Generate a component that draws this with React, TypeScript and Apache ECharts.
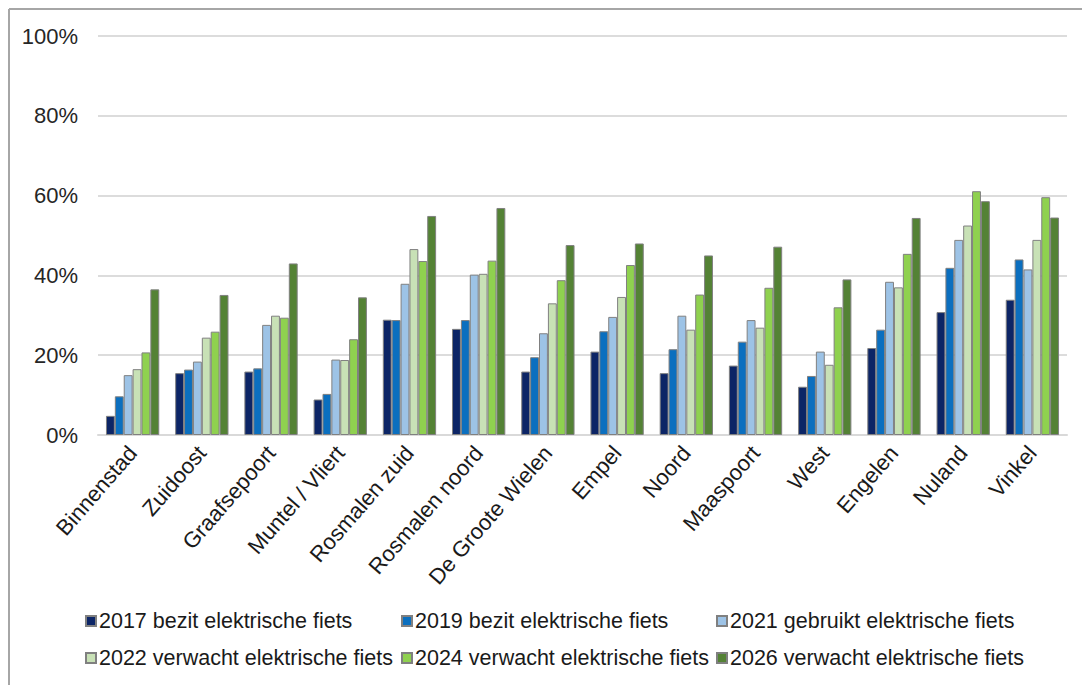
import React, { useEffect, useRef } from "react";
import * as echarts from "echarts";

const categories = [
  "Binnenstad", "Zuidoost", "Graafsepoort", "Muntel / Vliert", "Rosmalen zuid",
  "Rosmalen noord", "De Groote Wielen", "Empel", "Noord", "Maaspoort",
  "West", "Engelen", "Nuland", "Vinkel",
];

const seriesNames = [
  "2017 bezit elektrische fiets",
  "2019 bezit elektrische fiets",
  "2021 gebruikt elektrische fiets",
  "2022 verwacht elektrische fiets",
  "2024 verwacht elektrische fiets",
  "2026 verwacht elektrische fiets",
];

const v2017 = [4.8, 15.5, 15.9, 8.9, 28.9, 26.6, 15.9, 20.9, 15.5, 17.4, 12.1, 21.8, 30.8, 33.9];
const v2019 = [9.7, 16.4, 16.7, 10.3, 28.8, 28.8, 19.5, 26.0, 21.5, 23.4, 14.8, 26.4, 41.9, 44.0];
const v2021 = [15.0, 18.4, 27.6, 18.9, 37.9, 40.2, 25.5, 29.6, 29.9, 28.8, 20.9, 38.4, 48.9, 41.5];
const v2022 = [16.5, 24.4, 29.9, 18.8, 46.6, 40.4, 33.0, 34.6, 26.4, 26.9, 17.6, 37.0, 52.5, 48.9];
const v2024 = [20.7, 25.9, 29.4, 24.0, 43.6, 43.7, 38.8, 42.6, 35.2, 36.9, 32.0, 45.4, 61.1, 59.6];
const v2026 = [36.5, 35.1, 43.0, 34.5, 54.9, 56.9, 47.6, 48.0, 45.0, 47.2, 39.0, 54.4, 58.6, 54.5];

const seriesValues = [v2017, v2019, v2021, v2022, v2024, v2026];
const colors = ["#0c2566", "#0b6fbf", "#9dc3e6", "#c8e1b6", "#8fd14f", "#548235"];

const yTicks = [0, 20, 40, 60, 80, 100];

export default function App() {
  const ref = useRef<HTMLDivElement>(null);
  useEffect(() => {
    document.body.style.margin = "0";
    const chart = echarts.init(ref.current!, null, { renderer: "svg" });
    const font = "'Liberation Sans', Arial, sans-serif";
    const legendCols = [85, 401, 716];
    const legendRows = [610, 647];
    const legends = seriesNames.map((name, i) => ({
      data: [name],
      left: legendCols[i % 3],
      top: legendRows[Math.floor(i / 3)],
      itemWidth: 10,
      itemHeight: 10,
      icon: "rect",
      padding: 0,
      selectedMode: false,
      textStyle: { fontFamily: font, fontSize: 21.5, color: "#1a1a1a", padding: [0, 0, 0, -2] },
    }));
    chart.setOption({
      animation: false,
      backgroundColor: "#ffffff",
      textStyle: { fontFamily: font },
      grid: { left: 98, right: 15, top: 36, bottom: 250 },
      legend: legends,
      graphic: [
        { type: "line", shape: { x1: 9, y1: 9, x2: 1082, y2: 9 }, style: { stroke: "#a6a6a6", lineWidth: 2 } },
        { type: "line", shape: { x1: 9, y1: 9, x2: 9, y2: 685 }, style: { stroke: "#a6a6a6", lineWidth: 2 } },
      ],
      xAxis: {
        type: "category",
        data: categories,
        axisTick: { show: false },
        axisLine: { lineStyle: { color: "#d9d9d9", width: 2 } },
        axisLabel: {
          rotate: 49,
          interval: 0,
          margin: 14,
          fontFamily: font,
          fontSize: 22,
          color: "#1a1a1a",
        },
      },
      yAxis: {
        type: "value",
        min: yTicks[0],
        max: yTicks[yTicks.length - 1],
        interval: 20,
        axisLine: { show: false },
        axisTick: { show: false },
        splitLine: { lineStyle: { color: "#dcdcdc", width: 2 } },
        axisLabel: {
          formatter: "{value}%",
          margin: 20,
          fontFamily: font,
          fontSize: 22,
          color: "#262626",
        },
      },
      series: seriesNames.map((name, i) => ({
        name,
        type: "bar",
        data: seriesValues[i],
        barGap: "0%",
        barCategoryGap: "23%",
        itemStyle: { color: colors[i], borderColor: "#808080", borderWidth: 1 },
      })),
    });
    return () => chart.dispose();
  }, []);
  return <div ref={ref} style={{ width: 1082, height: 685 }} />;
}
